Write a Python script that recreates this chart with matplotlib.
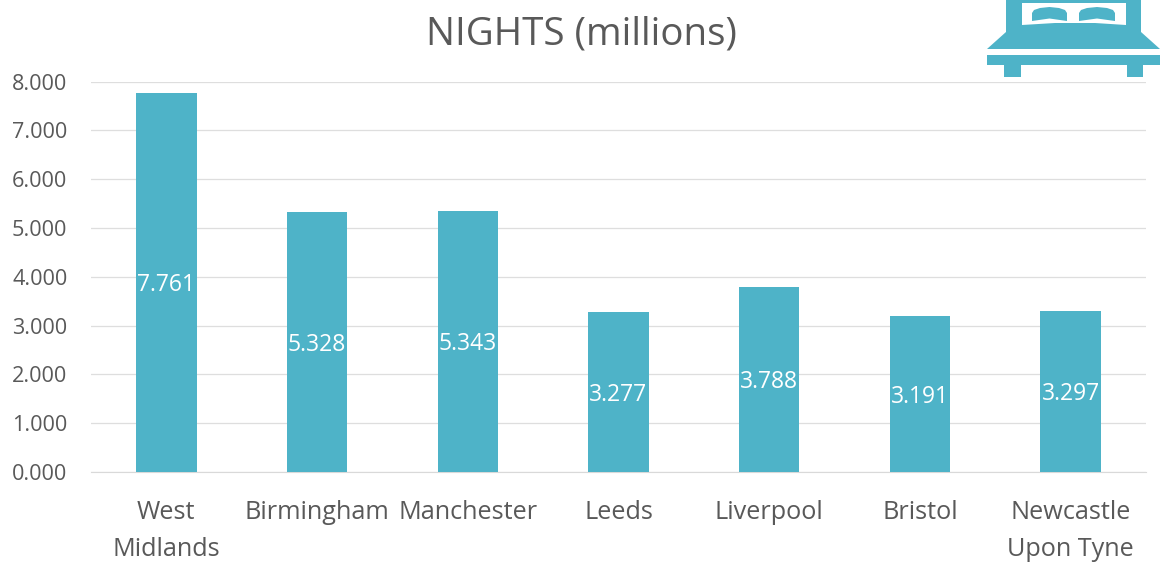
import matplotlib
matplotlib.use('Agg')
import matplotlib.pyplot as plt
from matplotlib.patches import Polygon, Rectangle

categories = ['West\nMidlands', 'Birmingham', 'Manchester', 'Leeds', 'Liverpool', 'Bristol', 'Newcastle\nUpon Tyne']
nights = [7.761, 5.328, 5.343, 3.277, 3.788, 3.191, 3.297]
y_ticks = [0, 1, 2, 3, 4, 5, 6, 7, 8]

TEAL = '#4EB3C8'
GREY = '#595959'
plt.rcParams['font.family'] = ['Open Sans', 'DejaVu Sans']

W, H = 1161, 563
fig = plt.figure(figsize=(W/100, H/100), dpi=100)
ax = fig.add_axes([91/W, 1-472/H, (1146-91)/W, (472-81.5)/H])
ax.bar(range(len(nights)), nights, width=0.4, color=TEAL, zorder=3)
ax.set_xlim(-0.5, 6.5)
ax.set_ylim(0, 8)
ax.set_yticks(y_ticks)
ax.set_yticklabels([f'{v:.3f}' for v in y_ticks], fontsize=15.6, color=GREY)
ax.set_xticks(range(len(categories)))
ax.set_xticklabels(categories, fontsize=18.2, color=GREY, linespacing=1.62)
ax.tick_params(length=0)
ax.tick_params(axis='x', pad=20)
ax.tick_params(axis='y', pad=17)
ax.grid(axis='y', color='#DEDEDE', lw=0.9, zorder=0)
for s in ['top', 'right', 'left']:
    ax.spines[s].set_visible(False)
ax.spines['bottom'].set_color('#D9D9D9')
for i, v in enumerate(nights):
    ax.annotate(f'{v:.3f}', xy=(i, v/2), xytext=(0, -2), textcoords='offset points',
                ha='center', va='center', color='white', fontsize=16.5, zorder=4)
fig.text(581/W, 1-35/H, 'NIGHTS (millions)', ha='center', va='center', fontsize=27.7, color=GREY)

# Bed pictogram in the top-right corner
icon = fig.add_axes([0, 0, 1, 1], facecolor='none')
icon.set_xlim(0, W); icon.set_ylim(H, 0); icon.axis('off')
icon.add_patch(Rectangle((1006, 0), 135, 40, color=TEAL, lw=0))
icon.add_patch(Polygon([(1022, 3), (1126, 3), (1126, 25), (1095, 23), (1055, 23), (1022, 25)], color='white', lw=0))
for x0, x1 in [(1032, 1067), (1079, 1115)]:
    icon.add_patch(Polygon([(x0, 21), (x0, 13), (x0+2, 10), (x0+8, 8), ((x0+x1)/2, 7), (x1-8, 8), (x1-2, 10), (x1, 13), (x1, 21), ((x0+x1)/2, 18.5)], color=TEAL, lw=0))
icon.add_patch(Polygon([(1006, 32), (1022, 27), (1055, 24), (1095, 24), (1126, 27), (1141, 32), (1160, 49), (987, 49)], color=TEAL, lw=0))
icon.add_patch(Rectangle((987, 55), 173, 9.5, color=TEAL, lw=0))
icon.add_patch(Rectangle((1004, 64), 17, 13, color=TEAL, lw=0))
icon.add_patch(Rectangle((1127, 64), 16, 13, color=TEAL, lw=0))
fig.savefig('out.png', dpi=100)
